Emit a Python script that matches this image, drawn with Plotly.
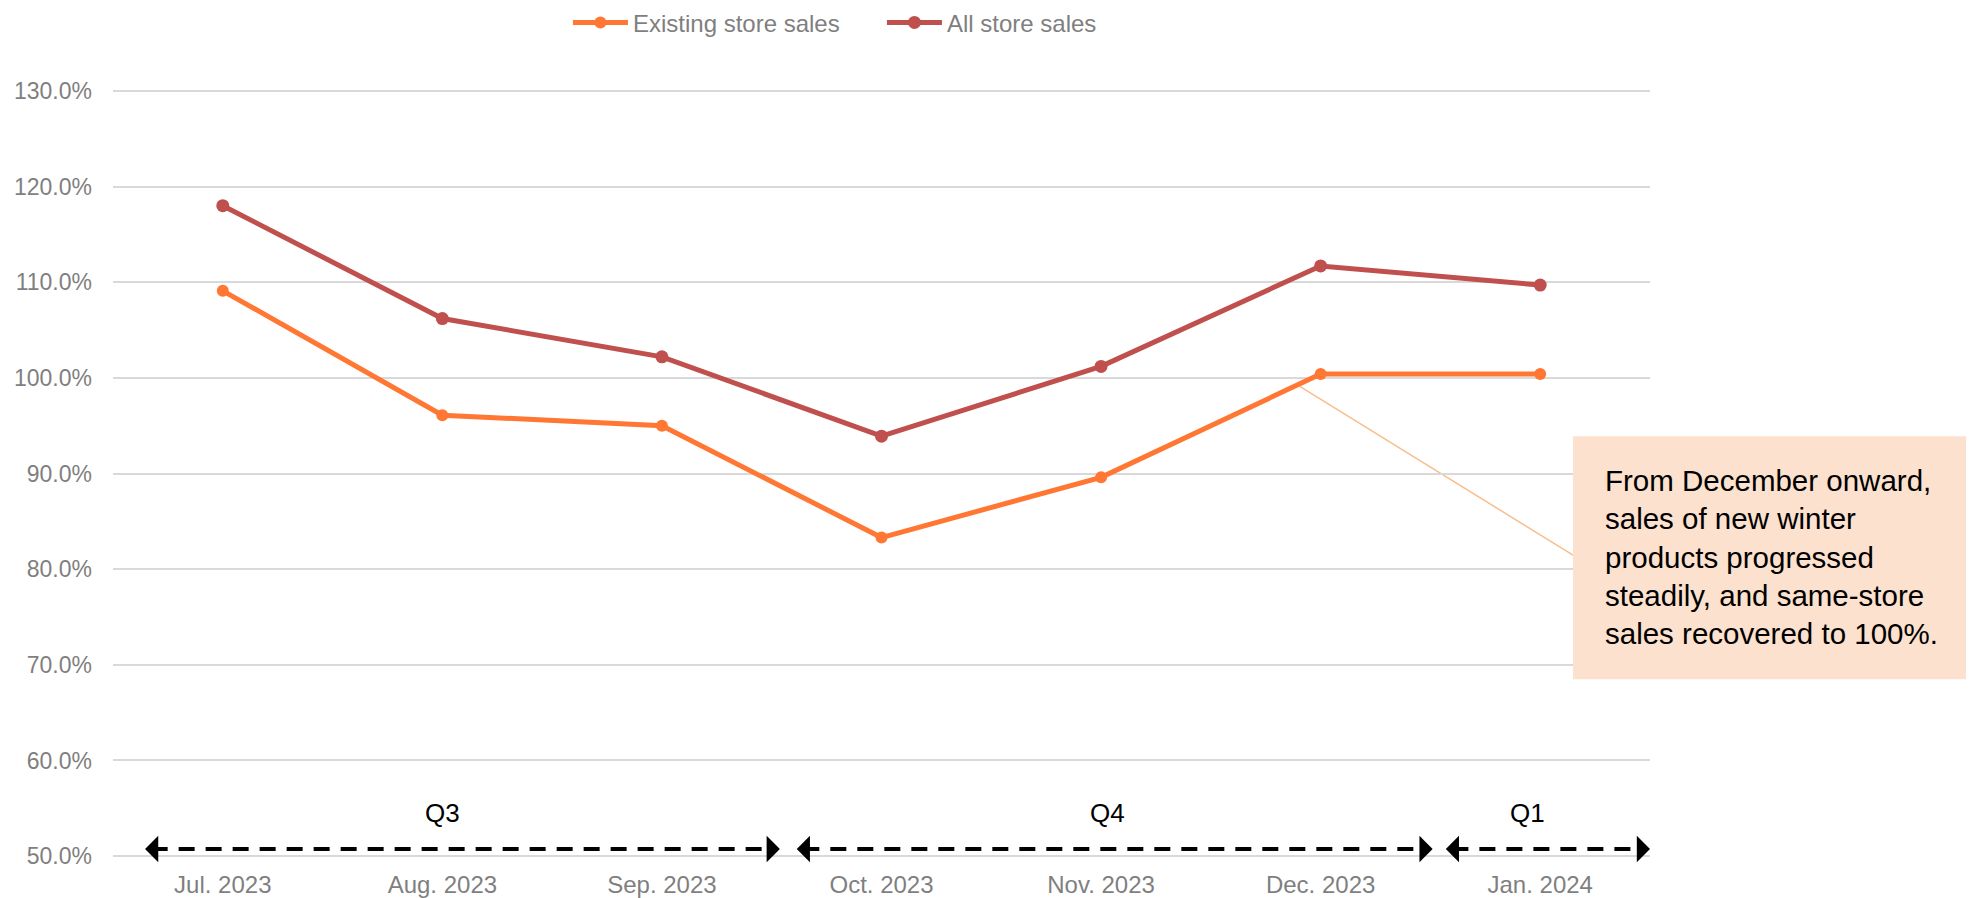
import plotly.graph_objects as go

months = ["Jul. 2023", "Aug. 2023", "Sep. 2023", "Oct. 2023", "Nov. 2023", "Dec. 2023", "Jan. 2024"]
existing_sales = [109.1, 96.1, 95.0, 83.3, 89.6, 100.4, 100.4]
all_sales = [118.0, 106.2, 102.2, 93.9, 101.2, 111.7, 109.7]

y_tick_values = [50, 60, 70, 80, 90, 100, 110, 120, 130]
y_tick_labels = ["50.0%", "60.0%", "70.0%", "80.0%", "90.0%", "100.0%", "110.0%", "120.0%", "130.0%"]

quarter_labels = ["Q3", "Q4", "Q1"]
quarter_label_x = [1.0, 4.03, 5.94]
quarter_start = [-0.354, 2.614, 5.57]
quarter_end = [2.537, 5.51, 6.5]
quarter_label_y = 54.5
quarter_arrow_y = 50.74

note_text = ("From December onward,<br>sales of new winter<br>products progressed<br>"
             "steadily, and same-store<br>sales recovered to 100%.")

ORANGE = "#FF7733"
RED = "#C0504D"
GRAY = "#7F7F7F"
FONT = "Liberation Sans, Arial, sans-serif"

idx = list(range(len(months)))

fig = go.Figure()
fig.add_trace(go.Scatter(x=idx, y=existing_sales, name="Existing store sales", mode="lines+markers",
                         line=dict(color=ORANGE, width=5), marker=dict(size=12, color=ORANGE)))
fig.add_trace(go.Scatter(x=idx, y=all_sales, name="All store sales", mode="lines+markers",
                         line=dict(color=RED, width=5), marker=dict(size=13, color=RED)))

# quarter dashed arrows
for s, e in zip(quarter_start, quarter_end):
    fig.add_shape(type="line", xref="x", yref="y", x0=s + 0.03, x1=e - 0.03,
                  y0=quarter_arrow_y, y1=quarter_arrow_y,
                  line=dict(color="black", width=4, dash="16px,11px"))
    for tip, back in ((s, s + 0.04), (e, e - 0.04)):
        fig.add_annotation(x=tip, y=quarter_arrow_y, ax=back, ay=quarter_arrow_y,
                           xref="x", yref="y", axref="x", ayref="y", text="",
                           showarrow=True, arrowhead=1, arrowsize=1.1, arrowwidth=4,
                           arrowcolor="black")
for lab, lx in zip(quarter_labels, quarter_label_x):
    fig.add_annotation(x=lx, y=quarter_label_y, xref="x", yref="y", text=lab, showarrow=False,
                       font=dict(family=FONT, size=26, color="black"))

# leader line from December point to note box
fig.add_shape(type="line", xref="x", yref="y", x0=4.905, y0=99.1, x1=6.5, y1=76.5,
              line=dict(color="#F7BE8C", width=1.5), layer="below")

# note box
fig.add_shape(type="rect", xref="paper", yref="paper", x0=0.9499, x1=1.22, y0=0.2326, y1=0.5486,
              fillcolor="#FCE1CE", line=dict(width=0), layer="above")
fig.add_annotation(xref="paper", yref="paper", x=0.9694, y=0.3913, xanchor="left", yanchor="middle",
                   align="left", showarrow=False, text=note_text,
                   font=dict(family=FONT, size=29.5, color="black"))

# page body has an 8px margin: figure is drawn 8px in from the top-left corner
fig.update_layout(
    width=1966, height=890,
    margin=dict(l=105, r=324, t=81, b=40, autoexpand=False),
    paper_bgcolor="white", plot_bgcolor="white",
    font=dict(family=FONT, color=GRAY),
    showlegend=True,
    legend=dict(orientation="h", x=0.296, y=1.086, xanchor="left", yanchor="middle",
                font=dict(family=FONT, size=24, color=GRAY), bgcolor="rgba(0,0,0,0)",
                entrywidth=244, itemwidth=55),
    xaxis=dict(tickmode="array", tickvals=idx, ticktext=months, range=[-0.5, 6.5],
               showgrid=False, zeroline=False, showline=False, ticks="",
               tickfont=dict(family=FONT, size=24, color=GRAY), ticklabelstandoff=10,
               automargin=False, fixedrange=True),
    yaxis=dict(range=[49.8, 130.2], tickmode="array", tickvals=y_tick_values, ticktext=y_tick_labels,
               showgrid=True, gridcolor="#D9D9D9", gridwidth=1.5, zeroline=False, showline=False,
               tickfont=dict(family=FONT, size=23, color=GRAY), ticklabelstandoff=20,
               automargin=False, fixedrange=True),
)

fig.write_html("out.html")
